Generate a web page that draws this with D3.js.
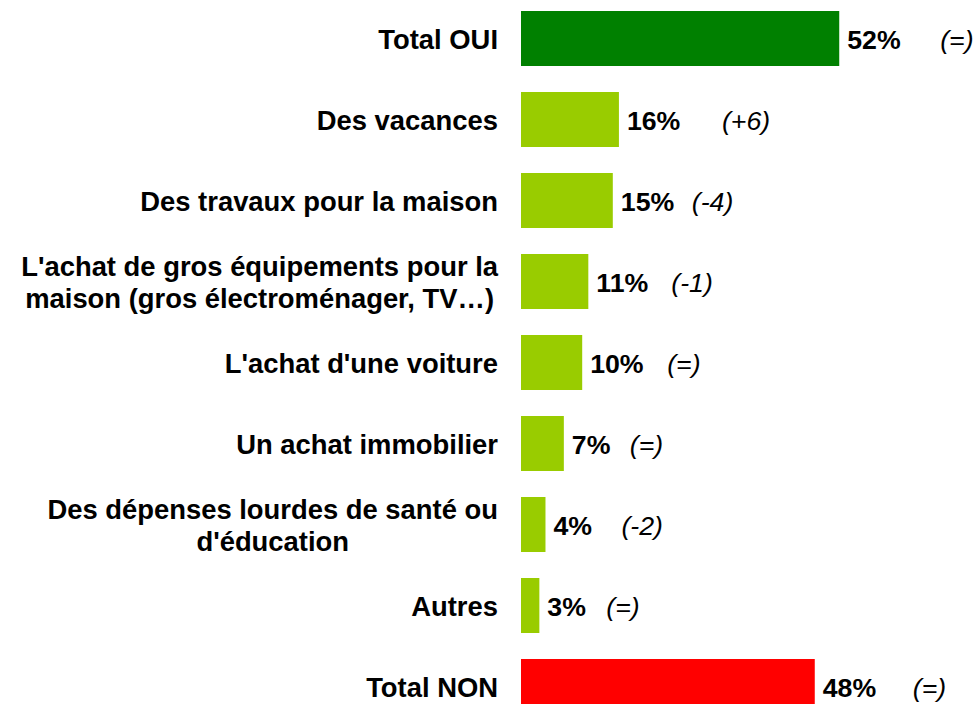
<!DOCTYPE html>
<html>
<head>
<meta charset="utf-8">
<script src="https://cdn.jsdelivr.net/npm/d3@7"></script>
<style>
  html, body { margin: 0; padding: 0; background: #ffffff; overflow: hidden; }
  svg { display: block; }
  text { font-family: "Liberation Sans", Arial, Helvetica, sans-serif; }
</style>
</head>
<body>
<svg id="chart" width="973" height="704"></svg>
<script>
// ---- data ----
const categories = [
  ["Total OUI"],
  ["Des vacances"],
  ["Des travaux pour la maison"],
  ["L'achat de gros équipements pour la", "maison (gros électroménager, TV…)"],
  ["L'achat d'une voiture"],
  ["Un achat immobilier"],
  ["Des dépenses lourdes de santé ou", "d'éducation"],
  ["Autres"],
  ["Total NON"]
];
const values = [52, 16, 15, 11, 10, 7, 4, 3, 48];
const valueLabels = ["52%", "16%", "15%", "11%", "10%", "7%", "4%", "3%", "48%"];
const changes = ["(=)", "(+6)", "(-4)", "(-1)", "(=)", "(=)", "(-2)", "(=)", "(=)"];
const kinds = ["oui", "item", "item", "item", "item", "item", "item", "item", "non"];

// ---- layout / style (not data) ----
const colors = { oui: "#008000", item: "#99CC00", non: "#FF0000" };
const changeOffsets = [101, 103, 79, 83, 85, 66, 76, 67, 98]; // px from bar end
const fontSize = 26.7;
const labelFontSize = 27.4;
const labelRight = 498;

const svg = d3.select("#chart");
const ids = categories.map((c, i) => i);

const x = d3.scaleLinear().domain([0, 100]).range([521, 521 + 612]);
const y = d3.scaleBand().domain(ids).range([-2, 727]).paddingInner(0.321).paddingOuter(0.1605);

// bars
svg.selectAll("rect.bar").data(ids).join("rect")
  .attr("class", "bar")
  .attr("x", x(0))
  .attr("y", i => y(i))
  .attr("width", i => x(values[i]) - x(0))
  .attr("height", y.bandwidth())
  .attr("fill", i => colors[kinds[i]]);

const baseOff = fontSize * 0.36 + 1;

// category labels
ids.forEach(i => {
  const lines = categories[i];
  const cy = y(i) + y.bandwidth() / 2;
  const lh = 32;
  const g = svg.append("g");
  const texts = lines.map((ln, k) => g.append("text")
    .attr("font-size", labelFontSize)
    .attr("font-weight", "bold")
    .attr("fill", "#000")
    .attr("y", cy + baseOff + (k - (lines.length - 1) / 2) * lh)
    .text(ln));
  const widths = texts.map(t => t.node().getComputedTextLength());
  const maxW = d3.max(widths);
  const center = labelRight - maxW / 2;
  texts.forEach(t => t.attr("x", center).attr("text-anchor", "middle"));
});

// value labels
svg.selectAll("text.val").data(ids).join("text")
  .attr("class", "val")
  .attr("x", i => x(values[i]) + 8)
  .attr("y", i => y(i) + y.bandwidth() / 2 + baseOff)
  .attr("font-size", fontSize)
  .attr("font-weight", "bold")
  .attr("fill", "#000")
  .text(i => valueLabels[i]);

// change labels
svg.selectAll("text.chg").data(ids).join("text")
  .attr("class", "chg")
  .attr("x", i => x(values[i]) + changeOffsets[i])
  .attr("y", i => y(i) + y.bandwidth() / 2 + baseOff)
  .attr("font-size", fontSize)
  .attr("font-style", "italic")
  .attr("fill", "#000")
  .text(i => changes[i]);
</script>
</body>
</html>
